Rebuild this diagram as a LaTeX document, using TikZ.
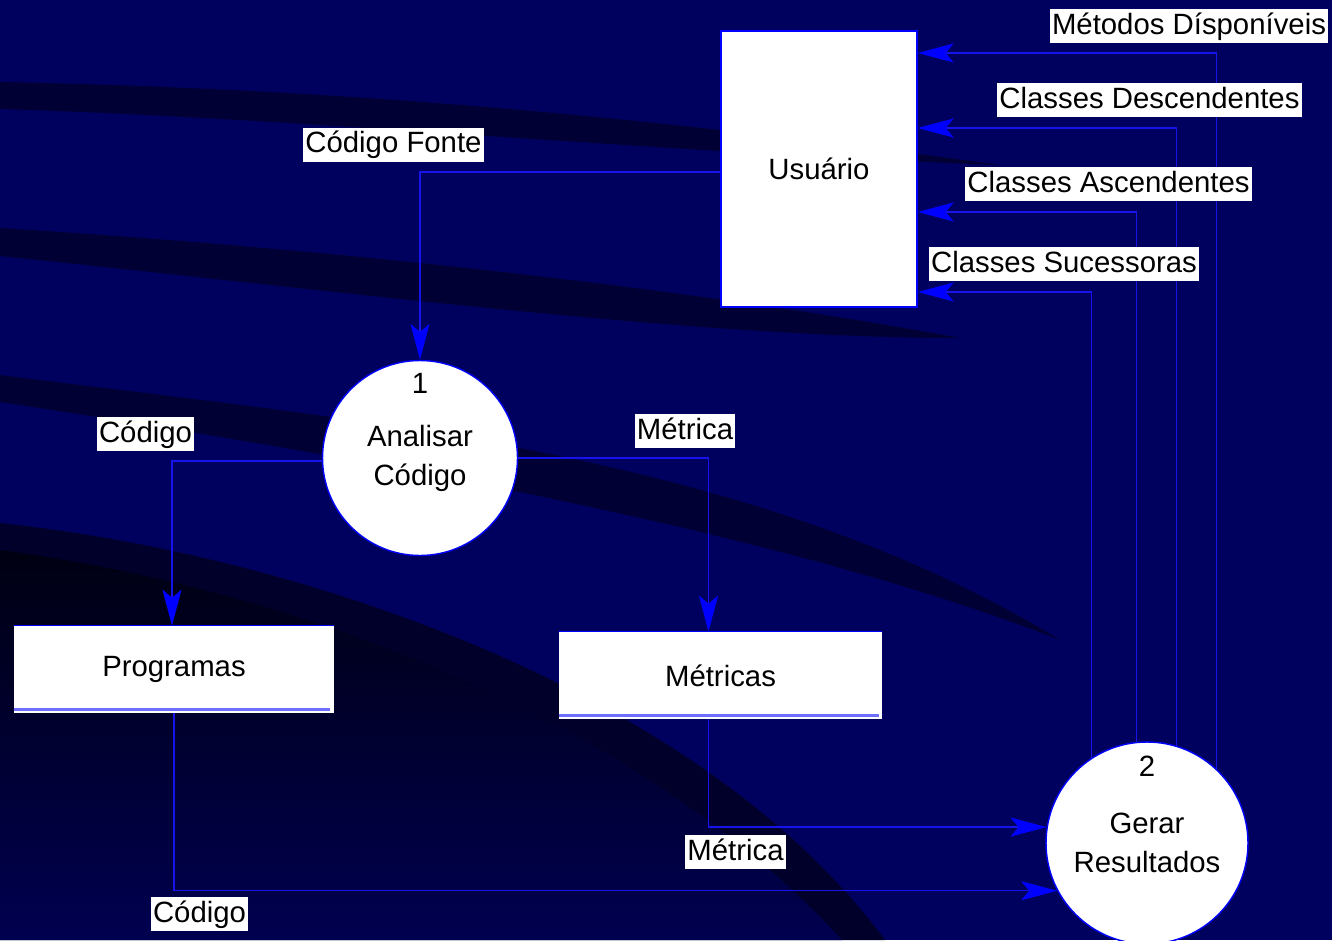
\documentclass[tikz,border=0pt]{standalone}
\usepackage{fontspec}
\setmainfont{Liberation Sans}
\usetikzlibrary{arrows.meta,calc}
\definecolor{navy}{RGB}{0,0,94}
\definecolor{band}{RGB}{0,0,52}
\definecolor{bandtwo}{RGB}{0,0,42}
\definecolor{deep}{RGB}{0,0,18}
\definecolor{lowblue}{RGB}{0,0,80}
\definecolor{lineblue}{RGB}{20,20,235}
\definecolor{arrowblue}{RGB}{0,0,255}
\definecolor{storeline}{RGB}{110,110,255}
\tikzset{
  every node/.style={font=\fontsize{16.7}{22.2}\selectfont, text=black},
  proc/.style={circle, draw=arrowblue, fill=white, line width=0.8pt, inner sep=0pt, align=center},
  ent/.style={rectangle, draw=arrowblue, fill=white, line width=0.8pt, minimum width=3.92cm, minimum height=5.52cm},
  store/.style={rectangle, fill=white, minimum height=1.74cm, inner sep=0pt},
  lbl/.style={fill=white, inner xsep=0.04cm, inner ysep=0.04cm, text height=0.46cm, text depth=0.14cm},
  num/.style={inner sep=0pt},
  flow/.style={draw=lineblue, line width=0.7pt, -{Stealth[length=0.72cm,width=0.38cm,inset=0.16cm,color=arrowblue]}},
  storetop/.style={draw=arrowblue, line width=0.8pt},
  storebottom/.style={draw=storeline, line width=1.4pt},
}
\begin{document}
\begin{tikzpicture}[x=0.02cm,y=-0.02cm]
\useasboundingbox (0,0) rectangle (1332,940);
\clip (0,0) rectangle (1332,940);
% background
\fill[navy] (0,0) rectangle (1332,940);
\fill[band] (0,82) .. controls (300,88) and (600,110) .. (1000,165) .. controls (650,152) and (300,118) .. (0,109) -- cycle;
\fill[band] (0,228) .. controls (350,250) and (700,290) .. (960,338) .. controls (700,338) and (350,292) .. (0,256) -- cycle;
\fill[band] (0,375) .. controls (350,420) and (750,450) .. (1060,640) .. controls (780,530) and (350,455) .. (0,402) -- cycle;
\fill[bandtwo] (0,523) .. controls (300,555) and (700,690) .. (885,940) -- (0,940) -- cycle;
\shade[top color=deep, bottom color=lowblue] (0,550) .. controls (300,590) and (640,720) .. (842,940) -- (0,940) -- cycle;

% nodes
\node[ent] (usr) at (819,169) {Usuário};
\node[proc, minimum size=3.9cm] (c1) at (420,458) {Analisar\\Código};
\node[num] (n1) at (420,383) {1};
\node[proc, minimum size=4.04cm] (c2) at (1147,843) {Gerar\\Resultados};
\node[num] (n2) at (1147,766) {2};
\node[store, minimum width=6.4cm] (prog) at (174,669.5) {Programas};
\node[store, minimum width=6.46cm] (metr) at (720.5,675.5) {Métricas};
\draw[storetop] (prog.north west) -- (prog.north east);
\draw[storebottom] ($(prog.south west)+(0,-4)$) -- ($(prog.south east)+(-4,-4)$);
\draw[storetop] (metr.north west) -- (metr.north east);
\draw[storebottom] ($(metr.south west)+(0,-4)$) -- ($(metr.south east)+(-3,-4)$);

% connectors
\draw[flow] ([yshift=-0.06cm]usr.west) -| (c1.north);
\draw[flow] ([yshift=-0.06cm]c1.west) -| ([xshift=-0.04cm]prog.north);
\draw[flow] (c1.east) -| ($(metr.north)+(-12,0)$);
\draw[flow] ($(metr.south)+(-12,0)$) |- (c2.171.5);
\draw[flow] (prog.south) |- (c2.208.4);
\draw[flow] (c2.123.7) |- ($(usr.east)+(0,123)$);
\draw[flow] (c2.96.8) |- ($(usr.east)+(0,43)$);
\draw[flow] (c2.73.3) |- ($(usr.east)+(0,-41)$);
\draw[flow] (c2.47.7) |- ($(usr.east)+(0,-116)$);

% labels
\node[lbl] (lcf) at (393.5,144.5) {Código Fonte};
\node[lbl] (lmd) at (1189,26) {Métodos Dísponíveis};
\node[lbl] (lcd) at (1149.5,100) {Classes Descendentes};
\node[lbl] (lca) at (1108.5,184) {Classes Ascendentes};
\node[lbl] (lcs) at (1064,264) {Classes Sucessoras};
\node[lbl] (lc1) at (145.5,434) {Código};
\node[lbl] (lm1) at (685,431) {Métrica};
\node[lbl] (lm2) at (735.5,852) {Métrica};
\node[lbl] (lc2) at (199.5,914) {Código};
\end{tikzpicture}
\end{document}
